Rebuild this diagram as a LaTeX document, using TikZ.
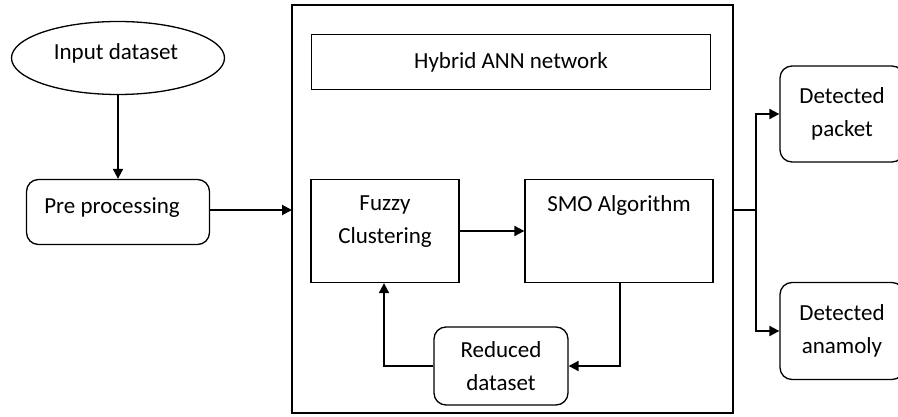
\documentclass[tikz,border=0pt]{standalone}
\usepackage{fontspec}
\setmainfont{Carlito}
\usetikzlibrary{arrows.meta,shapes.geometric}

\begin{document}
\begin{tikzpicture}[x=1pt,y=-1pt,
  font=\fontsize{23}{33}\selectfont,
  >={Triangle[length=10pt,width=10pt]},
  box/.style={draw, line width=1.3pt, align=center, inner sep=0pt},
  rbox/.style={box, rounded corners=12pt},
  every path/.style={line width=2pt}]
\useasboundingbox (0,0) rectangle (898,417);

% outer frame of the hybrid network
\draw[line width=1.3pt] (292,5) rectangle (733,413);

% nodes
\node[box, ellipse, minimum width=213pt, minimum height=73pt] (input) at (118,58) {};
\node (inputtext) at (116,53) {Input dataset};
\node[rbox, minimum width=183pt, minimum height=65pt] (pre) at (118,212) {};
\node (pretext) at (112,208) {Pre processing};
\node[box, minimum width=399pt, minimum height=55pt] (ann) at (511,62) {Hybrid ANN network};
\node[box, minimum width=148pt, minimum height=103pt] (fuzzy) at (385,231) {};
\node[align=center] (fuzzytext) at (385,222) {Fuzzy\\Clustering};
\node[box, minimum width=188pt, minimum height=103pt] (smo) at (619,231) {};
\node (smotext) at (619,205) {SMO Algorithm};
\node[rbox, minimum width=134pt, minimum height=78pt] (reduced) at (501,366) {Reduced\\dataset};
\node[rbox, minimum width=124pt, minimum height=96pt] (packet) at (842,114) {Detected\\packet};
\node[rbox, minimum width=124pt, minimum height=97pt] (anomaly) at (842,331) {Detected\\anamoly};
\coordinate (frameL) at (292,210);
\coordinate (frameR) at (733,210);
\coordinate (split) at (756,210);

% connectors
\draw[->] (input) -- (pre);
\draw[->] (pre.east |- frameL) -- (frameL);
\draw[->] (fuzzy) -- (smo);
\draw[->] (smo.south -| 620,0) |- (reduced);
\draw[->] (reduced) -| (fuzzy.south -| 384,0);
\draw (frameR) -- (split);
\draw[->] (split) |- (packet);
\draw[->] (split) |- (anomaly);
\end{tikzpicture}
\end{document}
